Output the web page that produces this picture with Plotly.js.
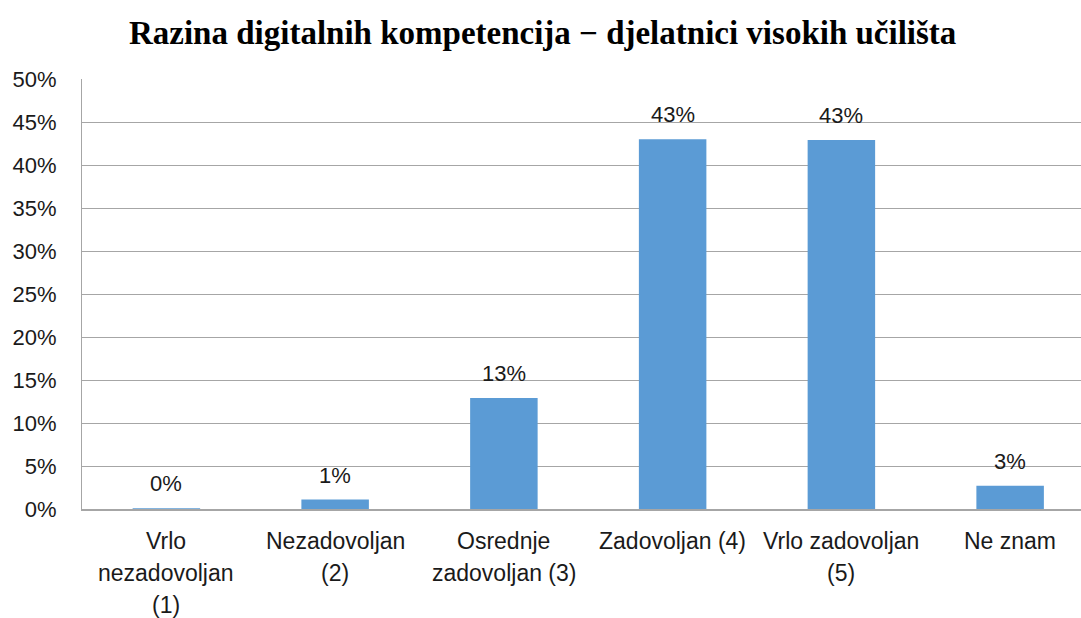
<!DOCTYPE html>
<html>
<head>
<meta charset="utf-8">
<script src="https://cdn.plot.ly/plotly-3.0.1.min.js"></script>
<style>html,body{margin:0;padding:0;background:#fff;}#chart{width:1081px;height:618px;}</style>
</head>
<body>
<div id="chart"></div>
<script>
const titleText = "Razina digitalnih kompetencija \u2212 djelatnici visokih učilišta";
const categories = ["Vrlo nezadovoljan (1)", "Nezadovoljan (2)", "Osrednje zadovoljan (3)", "Zadovoljan (4)", "Vrlo zadovoljan (5)", "Ne znam"];
const categoryLines = [
  ["Vrlo", "nezadovoljan", "(1)"],
  ["Nezadovoljan", "(2)"],
  ["Osrednje", "zadovoljan (3)"],
  ["Zadovoljan (4)"],
  ["Vrlo zadovoljan", "(5)"],
  ["Ne znam"]
];
const values = [0.1, 1.1, 12.9, 43.0, 42.9, 2.7];
const yTicks = [0, 5, 10, 15, 20, 25, 30, 35, 40, 45, 50];

const font = "'Liberation Sans', Arial, sans-serif";
const textColor = "#1a1a1a";
const idx = categories.map((c, i) => i);

const annotations = [];
values.forEach((v, i) => {
  annotations.push({
    x: i, y: v, xref: "x", yref: "y",
    text: Math.round(v) + "%",
    showarrow: false, yanchor: "bottom", yshift: 10,
    font: {family: font, size: 22, color: textColor}
  });
});
categoryLines.forEach((lines, i) => {
  lines.forEach((ln, j) => {
    annotations.push({
      x: i, y: 0, xref: "x", yref: "paper",
      text: ln, showarrow: false, yanchor: "middle",
      yshift: -32 - j * 32,
      font: {family: font, size: 23, color: textColor}
    });
  });
});

const trace = {
  type: "bar",
  x: idx,
  y: values,
  marker: {color: "#5b9bd5"},
  width: 0.4,
  hoverinfo: "skip"
};

const layout = {
  width: 1081, height: 618,
  margin: {l: 82, r: 0, t: 79, b: 109, pad: 0},
  paper_bgcolor: "#ffffff", plot_bgcolor: "#ffffff",
  showlegend: false,
  title: {
    text: "<b>" + titleText + "</b>",
    font: {family: "'Liberation Serif', 'Times New Roman', serif", size: 33, color: "#000"},
    x: 0.502, xanchor: "center", y: 0.947, yanchor: "middle"
  },
  xaxis: {
    range: [-0.5, 5.42],
    showticklabels: false, ticks: "",
    showgrid: false, zeroline: false,
    showline: true, linecolor: "#a6a6a6", linewidth: 1.5,
    fixedrange: true
  },
  yaxis: {
    range: [0, 50],
    tickvals: yTicks,
    ticktext: yTicks.map(t => t + "%"),
    ticks: "",
    ticklabelstandoff: 20,
    tickfont: {family: font, size: 22, color: textColor},
    showgrid: true, gridcolor: "#a6a6a6", gridwidth: 1,
    zeroline: false,
    showline: true, linecolor: "#a6a6a6", linewidth: 1,
    fixedrange: true
  },
  annotations: annotations
};

Plotly.newPlot("chart", [trace], layout, {displayModeBar: false, staticPlot: true});
</script>
</body>
</html>
